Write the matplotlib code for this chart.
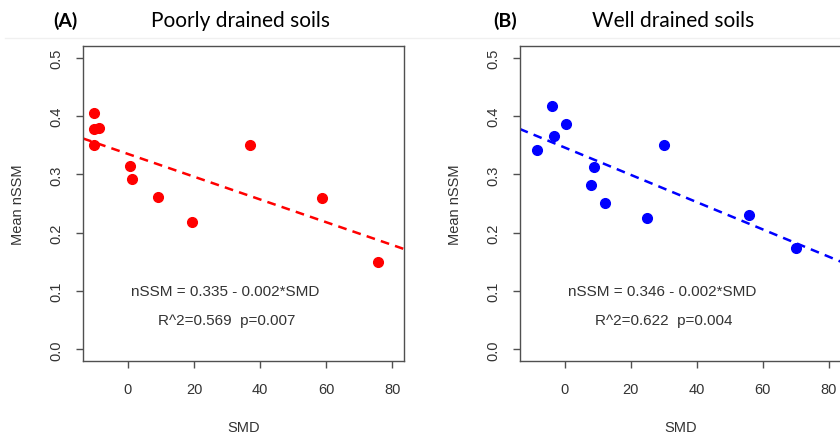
import matplotlib.pyplot as plt
from matplotlib.lines import Line2D

# panel A: poorly drained soils
smd_a = [-10.4, -10.3, -8.8, -10.4, 0.7, 1.3, 9.1, 19.3, 37.1, 58.7, 75.7]
nssm_a = [0.405, 0.377, 0.380, 0.350, 0.315, 0.292, 0.262, 0.218, 0.351, 0.260, 0.150]
fit_a = (0.335, -0.00195)

# panel B: well drained soils
smd_b = [-8.3, -3.7, -3.1, 0.3, 8.8, 7.9, 12.1, 24.8, 30.1, 55.8, 70.2]
nssm_b = [0.341, 0.4165, 0.366, 0.386, 0.3125, 0.282, 0.251, 0.2255, 0.351, 0.2295, 0.1736]
fit_b = (0.346, -0.00234)

panels = [
    ("(A)", "Poorly drained soils", smd_a, nssm_a, fit_a, "#FF0000",
     "nSSM = 0.335 - 0.002*SMD", "R^2=0.569  p=0.007"),
    ("(B)", "Well drained soils", smd_b, nssm_b, fit_b, "#0000FF",
     "nSSM = 0.346 - 0.002*SMD", "R^2=0.622  p=0.004"),
]

xticks = [0, 20, 40, 60, 80]
yticks = [0.0, 0.1, 0.2, 0.3, 0.4, 0.5]

plt.rcParams['font.family'] = ['Liberation Sans', 'DejaVu Sans']
fig = plt.figure(figsize=(8.4, 4.39), dpi=100)

W, H = 840, 439
lefts = [83, 519.7]
tag_x = [65, 505]
title_x = [241, 673.5]
txt_col = '#333333'
edge = '#505050'

# faint line at the top of the pasted R plots
fig.add_artist(Line2D([5 / W, 1], [1 - 38.5 / H] * 2, color='#f0f0f0', lw=1))

for i, (tag, title, x, y, fit, col, eq, stats) in enumerate(panels):
    ax = fig.add_axes([lefts[i] / W, 1 - 362 / H, 321 / W, 315 / H])
    ax.plot(x, y, 'o', color=col, markersize=7, zorder=3)
    ax.axline((0, fit[0]), slope=fit[1], color=col, lw=1.8,
              linestyle=(0, (3.5, 2.5)), zorder=2)
    ax.set_xlim(-13.6, 83.6)
    ax.set_ylim(-0.02, 0.52)
    ax.set_xticks(xticks)
    ax.set_yticks(yticks)
    ax.set_yticklabels([f"{v:.1f}" for v in yticks])
    ax.tick_params(axis='both', direction='out', length=5, width=1,
                   color=edge, labelcolor=txt_col, labelsize=10.5)
    ax.tick_params(axis='y', labelrotation=90, pad=9)
    ax.tick_params(axis='x', pad=10)
    for lab in ax.get_yticklabels():
        lab.set_va('center')
    for s in ax.spines.values():
        s.set_color(edge)
        s.set_linewidth(1)

    ax.text(29.5, 0.1, eq, ha='center', va='center', fontsize=11, color=txt_col)
    ax.text(30, 0.05, stats, ha='center', va='center', fontsize=11, color=txt_col)

    ax.text(0.5, -0.21, "SMD", transform=ax.transAxes, ha='center', va='center',
            fontsize=10.5, color=txt_col)
    lab_x = (18 if i == 0 else 455) - lefts[i]
    ax.text(lab_x / 321, 0.5, "Mean nSSM", transform=ax.transAxes, rotation=90,
            ha='center', va='center', fontsize=10.5, color=txt_col)

    fig.text(tag_x[i] / W, 1 - 21 / H, tag, ha='center', va='center',
             fontsize=14, fontweight='bold', family=['Lato', 'DejaVu Sans'])
    fig.text(title_x[i] / W, 1 - 21 / H, title, ha='center', va='center',
             fontsize=15, family=['Lato', 'DejaVu Sans'])

fig.savefig('out.png', dpi=100)
